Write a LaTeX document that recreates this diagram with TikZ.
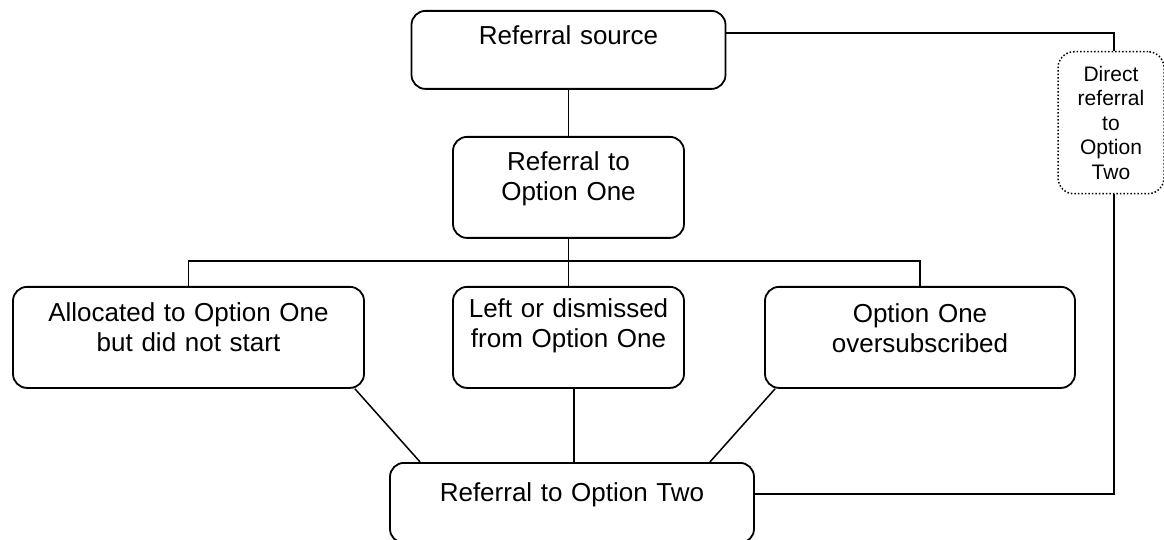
\documentclass[tikz,border=0pt]{standalone}
\usepackage{fontspec}
\setmainfont{Liberation Sans}
\usetikzlibrary{positioning}

\tikzset{
  box/.style={draw, line width=0.9pt, rounded corners=7pt, align=center,
    inner sep=0pt, text height=17pt, font=\fontsize{13}{15}\selectfont},
  dotbox/.style={draw, line width=0.75pt, densely dotted, rounded corners=8pt,
    align=center, inner sep=0pt, font=\fontsize{10.5}{12.25}\selectfont},
  link/.style={line width=0.75pt}
}

\begin{document}
\begin{tikzpicture}[x=0.5pt, y=-0.5pt]
  \useasboundingbox (0,0) rectangle (1164,540);

  % top of the chart
  \node[box, anchor=north, text width=157pt, text depth=22pt] (src) at (568.5,10) {Referral source};
  \node[box, anchor=north, text width=115.5pt, text depth=33.5pt] (opt1) at (568.5,136) {Referral to\\Option One};

  % the three outcomes
  \node[box, anchor=north, text width=175.5pt, text height=17.5pt, text depth=33pt] (alloc) at (188.5,286) {Allocated to Option One\\but did not start};
  \node[box, anchor=north, text width=115.5pt, text height=15.5pt, text depth=35pt] (left) at (568.5,286) {Left or dismissed\\from Option One};
  \node[box, anchor=north, text width=155pt, text height=18pt, text depth=32.5pt] (over) at (920,286) {Option One\\oversubscribed};

  \node[box, anchor=north, text width=182pt, text height=19.5pt, text depth=20.5pt] (opt2) at (572,462) {Referral to Option Two};

  \node[dotbox, anchor=north, text width=53pt, minimum height=71pt] (direct) at (1111,51) {Direct\\referral\\to\\Option\\Two};

  \coordinate (bar) at (568.5,261);

  \draw[link] (src.south) -- (opt1.north);
  \draw[link] (opt1.south) -- (left.north);
  \draw[link] (alloc.north) |- (bar) -| (over.north);

  \draw[link] ([xshift=-5pt]alloc.south east) -- ([xshift=15.5pt]opt2.north west);
  \draw[link] ([xshift=2.75pt]left.south) -- ([xshift=2.75pt]left.south |- opt2.north);
  \draw[link] ([xshift=5.5pt]over.south west) -- ([xshift=-22.5pt]opt2.north east);

  \draw[link] ([yshift=8.5pt]src.east) -| ([xshift=1.5pt]direct.north);
  \draw[link] ([yshift=4.5pt]opt2.east) -| ([xshift=1.5pt]direct.south);
\end{tikzpicture}
\end{document}
